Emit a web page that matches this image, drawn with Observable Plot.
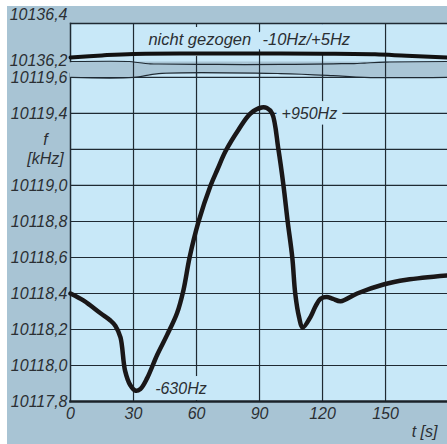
<!DOCTYPE html>
<html><head><meta charset="utf-8">
<script src="https://cdn.jsdelivr.net/npm/d3@7"></script>
<script src="https://cdn.jsdelivr.net/npm/@observablehq/plot@0.6"></script>
<style>
body{margin:0;background:#fff;}
#wrap{position:relative;width:447px;height:444px;overflow:hidden;background:#fff;}
#bg{position:absolute;left:7px;top:6px;right:0;bottom:0;background:#a8c4d4;}
#lower,#upper{position:absolute;left:0;top:0;}
</style>
</head><body>
<div id="wrap"><div id="bg"></div><div id="lower"></div><div id="upper"></div></div>
<script>
// main trace (pulled oscillator), t in s, f in kHz
const tMain = [0, 6.3, 14.3, 19, 21.4, 23.8, 26, 28.5, 31, 33.3, 36.5, 41.3, 46, 50.7, 53.8, 56.7, 61, 66.7, 70, 73.8, 80, 85.7, 91, 93.5, 96, 99, 101.4, 103.4, 105.6, 107, 108.8, 110.5, 114.3, 116.7, 119, 122, 125, 128.6, 136.5, 149, 160, 179.4];
const fMain = [10118.40, 10118.36, 10118.29, 10118.25, 10118.22, 10118.156, 10117.97, 10117.89, 10117.86, 10117.87, 10117.93, 10118.06, 10118.17, 10118.29, 10118.42, 10118.60, 10118.80, 10119.00, 10119.09, 10119.19, 10119.31, 10119.40, 10119.433, 10119.43, 10119.40, 10119.20, 10119.00, 10118.80, 10118.60, 10118.40, 10118.27, 10118.21, 10118.27, 10118.33, 10118.37, 10118.38, 10118.37, 10118.357, 10118.40, 10118.45, 10118.476, 10118.50];
// unpulled trace (top panel)
const tTop = [0, 15, 30, 60, 90, 120, 145, 160, 179.5];
const fTop = [10136.217, 10136.228, 10136.236, 10136.238, 10136.238, 10136.237, 10136.234, 10136.226, 10136.217];
// axis break band edges (top panel units)
const tBandA = [0, 28, 38, 70, 100, 135, 150, 179.5];
const fBandA = [10136.195, 10136.195, 10136.182, 10136.179, 10136.179, 10136.184, 10136.192, 10136.195];
const tBandB = [0, 30, 42, 100, 125, 140, 179.5];
const fBandB = [10136.109, 10136.109, 10136.130, 10136.130, 10136.119, 10136.109, 10136.109];
// ticks
const xTicks = [0, 30, 60, 90, 120, 150];
const xGrid = [30, 60, 90, 120, 150];
const yGridLow = [10117.8, 10118.0, 10118.2, 10118.4, 10118.6, 10118.8, 10119.0, 10119.2, 10119.4, 10119.6];
const yLabelsLow = [10117.8, 10118.0, 10118.2, 10118.4, 10118.6, 10118.8, 10119.0, 10119.4, 10119.6];
const yTicksTop = [10136.4, 10136.2];
// annotations
const notesLow = [{t: 40.3, f: 10117.872, label: "-630Hz"}, {t: 100.5, f: 10119.4, label: "+950Hz"}];
const notesTop = [{t: 37.1, f: 10136.314, label: "nicht gezogen"}, {t: 91.4, f: 10136.314, label: "-10Hz/+5Hz"}];

const LIGHT = "#c8e8f8", GRID = "#1f2a33", TEXT = "#2b2f33", BAND = "#aac6d6", INK = "#1a1718";
const FS = 16;
const fmt = d => d.toFixed(1).replace(".", ",");
const mainData = tMain.map((t, i) => ({t, f: fMain[i]}));
const topData = tTop.map((t, i) => ({t, f: fTop[i]}));
const bandBData = tBandB.map((t, i) => ({t, f: fBandB[i]}));
const tBand = Array.from(new Set([...tBandA, ...tBandB])).sort((a, b) => a - b);
const interp = (ts, fs, t) => { for (let i = 1; i < ts.length; i++) if (t <= ts[i]) { const k = (t - ts[i-1]) / (ts[i] - ts[i-1]); return fs[i-1] + k * (fs[i] - fs[i-1]); } return fs[fs.length-1]; };
const bandData = tBand.map(t => ({t, a: interp(tBandA, fBandA, t), b: interp(tBandB, fBandB, t)}));
const bandBottom = Math.min(...fBandB);
const plotStyle = {background: "transparent", fontFamily: "Liberation Sans, Arial, sans-serif", fontSize: "16px", fontStyle: "italic", color: TEXT, overflow: "visible"};
const xDomain = [0, 179.5];

const lowerPlot = Plot.plot({
  width: 447, height: 444, marginLeft: 70, marginRight: 0, marginTop: 73, marginBottom: 43,
  style: plotStyle,
  x: {domain: xDomain},
  y: {domain: [10117.8, 10119.622]},
  marks: [
    Plot.frame({fill: LIGHT, stroke: null}),
    Plot.ruleY(yGridLow, {stroke: GRID, strokeWidth: 1.2}),
    Plot.ruleX(xGrid, {stroke: GRID, strokeWidth: 1.2}),
    Plot.text(notesLow, {x: "t", y: "f", text: "label", textAnchor: "start", fill: TEXT, stroke: LIGHT, strokeWidth: 12, fontSize: FS}),
    Plot.frame({anchor: "left", stroke: GRID, strokeWidth: 1.5}),
    Plot.frame({anchor: "bottom", stroke: "#1b2228", strokeWidth: 2.6}),
    Plot.axisY({ticks: yLabelsLow, tickSize: 0, tickPadding: 3, tickFormat: fmt, label: null, fill: TEXT, fontSize: FS}),
    Plot.axisX({ticks: xTicks, tickSize: 0, tickPadding: 6, tickFormat: d => String(d), label: null, fill: TEXT, fontSize: FS}),
    Plot.text(["f\n[kHz]"], {frameAnchor: "left", y: [10119.208], dx: -25, textAnchor: "middle", lineHeight: 1.2, fill: TEXT, fontSize: FS}),
    Plot.text(["t [s]"], {frameAnchor: "bottom-right", dx: -10, dy: 35, textAnchor: "end", fill: TEXT, fontSize: FS}),
    Plot.line(mainData, {x: "t", y: "f", curve: "catmull-rom", stroke: INK, strokeWidth: 4.5})
  ]
});
document.getElementById("lower").append(lowerPlot);

const upperPlot = Plot.plot({
  width: 447, height: 80, marginLeft: 70, marginRight: 0, marginTop: 23, marginBottom: 19,
  style: plotStyle,
  x: {domain: xDomain, axis: null},
  y: {domain: [10136.195, 10136.4]},
  marks: [
    Plot.frame({fill: LIGHT, stroke: null}),
    Plot.areaY(bandData, {x: "t", y1: "a", y2: "b", fill: BAND, curve: "catmull-rom"}),
    Plot.ruleX(xGrid, {y1: 10136.4, y2: bandBottom, stroke: GRID, strokeWidth: 1.2}),
    Plot.line(bandData, {x: "t", y: "a", curve: "catmull-rom", stroke: GRID, strokeWidth: 1.2}),
    Plot.line(bandBData, {x: "t", y: "f", curve: "catmull-rom", stroke: GRID, strokeWidth: 1.2}),
    Plot.text(notesTop, {x: "t", y: "f", text: "label", textAnchor: "start", fill: TEXT, stroke: LIGHT, strokeWidth: 18, fontSize: 16.5}),
    Plot.frame({anchor: "top", stroke: GRID, strokeWidth: 1.3}),
    Plot.frame({anchor: "left", stroke: GRID, strokeWidth: 1.5}),
    Plot.line(topData, {x: "t", y: "f", curve: "catmull-rom", stroke: "#111", strokeWidth: 4}),
    Plot.axisY({ticks: [yTicksTop[0]], tickSize: 0, tickPadding: 3, dy: -9, tickFormat: fmt, label: null, fill: TEXT, fontSize: FS}),
    Plot.axisY({ticks: [yTicksTop[1]], tickSize: 0, tickPadding: 3, tickFormat: fmt, label: null, fill: TEXT, fontSize: FS})
  ]
});
document.getElementById("upper").append(upperPlot);
</script>
</body></html>
